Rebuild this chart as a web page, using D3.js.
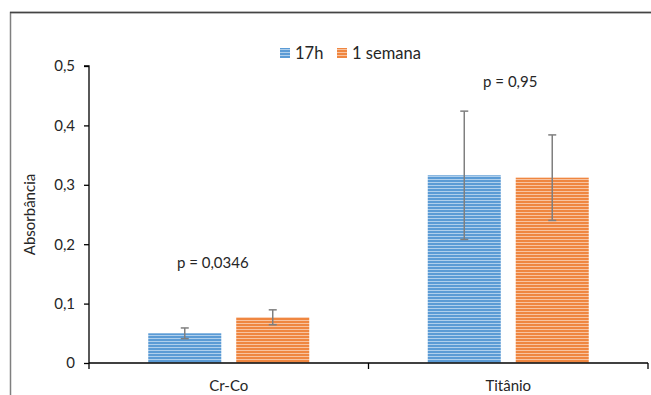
<!DOCTYPE html>
<html>
<head>
<meta charset="utf-8">
<script src="https://cdn.jsdelivr.net/npm/d3@7"></script>
<style>
  html, body { margin: 0; padding: 0; background: #fff; }
  svg { display: block; font-family: Lato, "Open Sans", sans-serif; }
</style>
</head>
<body>
<svg id="chart" width="651" height="395"></svg>
<script>
// Absorbance by material and time interval (mean ± SD)
const categories = ["Cr-Co", "Titânio"];
const seriesNames = ["17h", "1 semana"];
const means17h = [0.050, 0.316];
const meansSemana = [0.077, 0.312];
const err17h = [0.009, 0.108];
const errSemana = [0.0125, 0.072];
const pLabels = ["p = 0,0346", "p = 0,95"];
const pLabelValues = [0.16, 0.465];
const yTicks = [0, 0.1, 0.2, 0.3, 0.4, 0.5];

const colors = { "17h": ["#5B9BD5", "#AFCFEC"], "1 semana": ["#EF8640", "#F8C3A0"] };

const svg = d3.select("#chart");
const margin = { left: 89, right: 3, top: 66, bottom: 32 };
const W = 651, H = 395;

// striped fills for the bars
const defs = svg.append("defs");
seriesNames.forEach((s, i) => {
  const p = defs.append("pattern")
    .attr("id", "stripe" + i)
    .attr("patternUnits", "userSpaceOnUse")
    .attr("width", 8).attr("height", 3);
  p.append("rect").attr("width", 8).attr("height", 3).attr("fill", colors[s][0]);
  p.append("rect").attr("y", 2).attr("width", 8).attr("height", 1).attr("fill", colors[s][1]);
});

// outer frame
svg.append("path")
  .attr("d", `M10.5,${H} V12.5 H${W}`)
  .attr("fill", "none").attr("stroke", "#7f7f7f").attr("stroke-width", 1.5);
svg.append("line").attr("x1", 10).attr("x2", W).attr("y1", 12.5).attr("y2", 12.5)
  .attr("stroke", "#444").attr("stroke-width", 1.5);

const x0 = d3.scaleBand().domain(categories).range([margin.left, W - margin.right]).padding(0);
const y = d3.scaleLinear().domain([0, 0.5]).range([H - margin.bottom, margin.top]);

const groupOffset = d3.scaleBand().domain(seriesNames).range([-80.5, 80.5]).paddingInner(0.17);

const data = categories.map((c, i) => ({
  cat: c,
  vals: [
    { s: "17h", v: means17h[i], e: err17h[i] },
    { s: "1 semana", v: meansSemana[i], e: errSemana[i] }
  ]
}));

const g = svg.append("g");
const groups = g.selectAll("g.cat").data(data).join("g")
  .attr("transform", d => `translate(${x0(d.cat) + x0.bandwidth() / 2},0)`);

groups.selectAll("rect").data(d => d.vals).join("rect")
  .attr("x", d => groupOffset(d.s))
  .attr("width", groupOffset.bandwidth())
  .attr("y", d => y(d.v))
  .attr("height", d => y(0) - y(d.v))
  .attr("fill", d => "url(#stripe" + seriesNames.indexOf(d.s) + ")");

// error bars
const eb = groups.selectAll("g.err").data(d => d.vals).join("g")
  .attr("stroke", "#7f7f7f").attr("stroke-width", 1.5);
eb.append("line")
  .attr("x1", d => groupOffset(d.s) + groupOffset.bandwidth() / 2)
  .attr("x2", d => groupOffset(d.s) + groupOffset.bandwidth() / 2)
  .attr("y1", d => y(d.v + d.e)).attr("y2", d => y(d.v - d.e));
[1, -1].forEach(sgn => {
  eb.append("line")
    .attr("x1", d => groupOffset(d.s) + groupOffset.bandwidth() / 2 - 4)
    .attr("x2", d => groupOffset(d.s) + groupOffset.bandwidth() / 2 + 4)
    .attr("y1", d => y(d.v + sgn * d.e)).attr("y2", d => y(d.v + sgn * d.e));
});

// p-value annotations
groups.append("text")
  .attr("x", (d, i) => i === 0 ? -16 : 2)
  .attr("y", (d, i) => y(pLabelValues[i]))
  .attr("text-anchor", "middle")
  .attr("font-size", 15).attr("fill", "#262626")
  .text((d, i) => pLabels[i]);

// y axis
const yAxis = d3.axisLeft(y).tickValues(yTicks).tickSize(5).tickPadding(9)
  .tickFormat(d => d === 0 ? "0" : d3.format(".1f")(d).replace(".", ","));
const ya = svg.append("g").attr("transform", `translate(${margin.left},0)`).call(yAxis);
ya.select(".domain").attr("stroke", "#000").attr("stroke-width", 1.3).attr("d", `M-5,${y(0.5)}H0V${y(0)}`);
ya.selectAll(".tick line").attr("stroke", "#000").attr("stroke-width", 1.3);
ya.selectAll("text").attr("font-size", 15).attr("fill", "#262626").attr("font-family", "Lato, sans-serif");

// x axis
const xAxis = d3.axisBottom(x0).tickSize(0).tickPadding(17);
const xa = svg.append("g").attr("transform", `translate(0,${y(0)})`).call(xAxis);
xa.select(".domain").attr("stroke", "#000").attr("stroke-width", 1.3).attr("d", `M${margin.left},0H${W - margin.right}`);
xa.selectAll("text").attr("font-size", 15).attr("fill", "#262626").attr("font-family", "Lato, sans-serif");
// category separators
const seps = [margin.left, x0(categories[1]), W - margin.right];
xa.selectAll("line.sep").data(seps).join("line").attr("class", "sep")
  .attr("x1", d => d).attr("x2", d => d).attr("y1", 0).attr("y2", 6)
  .attr("stroke", "#000").attr("stroke-width", 1.3);

// y axis title
svg.append("text")
  .attr("transform", `translate(35,${(y(0) + y(0.5)) / 2}) rotate(-90)`)
  .attr("text-anchor", "middle")
  .attr("font-size", 15).attr("fill", "#262626")
  .text("Absorbância");

// legend
const legend = svg.append("g").attr("transform", "translate(280,53)");
const legX = [0, 57];
seriesNames.forEach((s, i) => {
  const lg = legend.append("g").attr("transform", `translate(${legX[i]},0)`);
  lg.append("rect").attr("x", 0).attr("y", -5).attr("width", 10).attr("height", 10)
    .attr("fill", "url(#stripe" + i + ")");
  lg.append("text").attr("x", 15).attr("y", 0).attr("dy", "0.35em")
    .attr("font-size", 16.5).attr("fill", "#262626").text(s);
});
</script>
</body>
</html>
